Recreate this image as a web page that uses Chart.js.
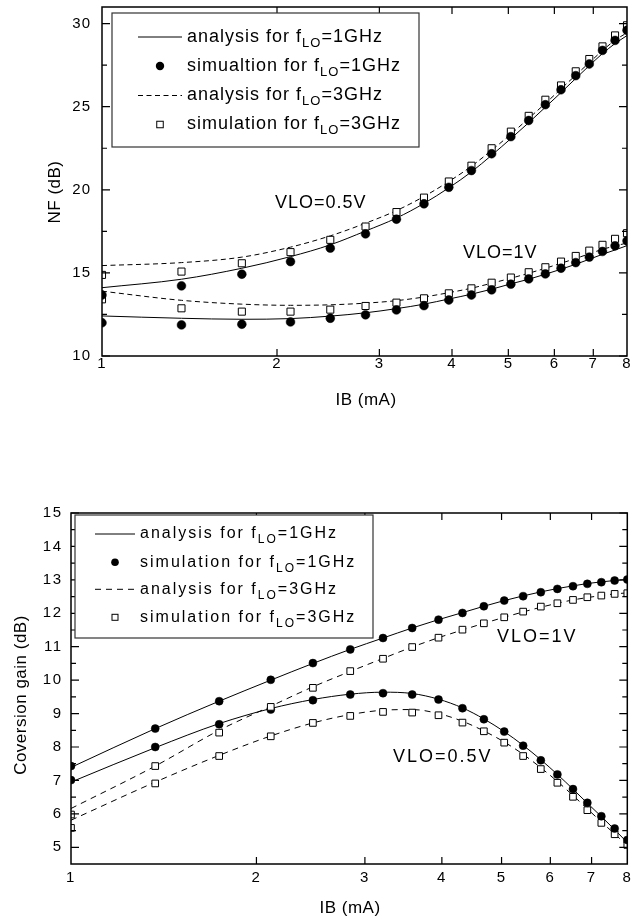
<!DOCTYPE html>
<html>
<head>
<meta charset="utf-8">
<script src="https://cdn.jsdelivr.net/npm/chart.js@4.4.1/dist/chart.umd.min.js"></script>
<style>
  html, body { margin: 0; padding: 0; background: #fff; }
  #wrap { position: relative; width: 633px; height: 920px; overflow: hidden; }
  canvas { position: absolute; left: 0; }
  #nf { top: 0; }
  #cg { top: 470px; }
</style>
</head>
<body>
<div id="wrap">
  <canvas id="nf" width="633" height="420"></canvas>
  <canvas id="cg" width="633" height="450"></canvas>
</div>
<script>
// Base current IB (mA) at which both analysis and simulation are evaluated
const ibValues = [1.00, 1.37, 1.74, 2.11, 2.47, 2.84, 3.21, 3.58, 3.95, 4.32,
                  4.68, 5.05, 5.42, 5.79, 6.16, 6.53, 6.89, 7.26, 7.63, 8.00];
const xTickValues = [1, 2, 3, 4, 5, 6, 7, 8];
const xInnerTicks = [2, 3, 4, 5, 6, 7];

// Noise figure (dB)
const nfAna05_1G = [14.11, 14.62, 15.28, 15.98, 16.69, 17.52, 18.30, 19.18, 20.12, 21.08,
                    22.08, 23.08, 24.04, 24.97, 25.85, 26.70, 27.47, 28.20, 28.80, 29.28];
const nfSim05_1G = [13.67, 14.22, 14.92, 15.68, 16.49, 17.35, 18.23, 19.16, 20.15, 21.16,
                    22.17, 23.20, 24.17, 25.12, 26.02, 26.87, 27.57, 28.39, 28.99, 29.60];
const nfAna05_3G = [15.44, 15.62, 15.95, 16.55, 17.23, 17.99, 18.75, 19.60, 20.50, 21.42,
                    22.38, 23.35, 24.30, 25.20, 26.07, 26.90, 27.65, 28.38, 29.00, 29.45];
const nfSim05_3G = [14.88, 15.08, 15.58, 16.25, 16.99, 17.79, 18.66, 19.53, 20.50, 21.45,
                    22.50, 23.50, 24.45, 25.42, 26.28, 27.13, 27.87, 28.63, 29.29, 29.90];
const nfAna1_1G  = [12.41, 12.27, 12.21, 12.25, 12.40, 12.60, 12.85, 13.12, 13.43, 13.72,
                    14.02, 14.34, 14.62, 14.92, 15.22, 15.52, 15.82, 16.12, 16.38, 16.64];
const nfSim1_1G  = [12.00, 11.87, 11.91, 12.05, 12.27, 12.48, 12.77, 13.03, 13.37, 13.67,
                    13.98, 14.32, 14.64, 14.94, 15.28, 15.62, 15.95, 16.29, 16.63, 16.93];
const nfAna1_3G  = [13.90, 13.35, 13.12, 13.05, 13.08, 13.18, 13.33, 13.55, 13.81, 14.08,
                    14.38, 14.68, 14.98, 15.28, 15.58, 15.87, 16.15, 16.42, 16.62, 16.80];
const nfSim1_3G  = [13.41, 12.87, 12.67, 12.67, 12.79, 13.01, 13.21, 13.47, 13.77, 14.07,
                    14.41, 14.72, 15.04, 15.34, 15.68, 16.02, 16.34, 16.69, 17.05, 17.39];
const nfYMajor = [10, 15, 20, 25, 30];
const nfYMinor = [12.5, 17.5, 22.5, 27.5];

// Conversion gain (dB)
const cgAna1_1G  = [7.39, 8.55, 9.37, 10.00, 10.50, 10.92, 11.26, 11.56, 11.81, 12.02,
                    12.21, 12.38, 12.52, 12.64, 12.74, 12.82, 12.89, 12.94, 12.98, 13.01];
const cgSim1_1G  = [7.43, 8.55, 9.37, 10.01, 10.51, 10.92, 11.26, 11.56, 11.81, 12.01,
                    12.21, 12.38, 12.51, 12.63, 12.73, 12.81, 12.88, 12.93, 12.98, 13.01];
const cgAna1_3G  = [6.16, 7.43, 8.50, 9.22, 9.80, 10.26, 10.65, 10.99, 11.27, 11.50,
                    11.70, 11.88, 12.04, 12.18, 12.30, 12.40, 12.47, 12.53, 12.58, 12.61];
const cgSim1_3G  = [5.98, 7.43, 8.43, 9.20, 9.77, 10.27, 10.64, 10.99, 11.27, 11.51,
                    11.70, 11.88, 12.05, 12.20, 12.30, 12.40, 12.48, 12.53, 12.58, 12.60];
const cgAna05_1G = [6.95, 7.98, 8.70, 9.15, 9.42, 9.58, 9.64, 9.60, 9.43, 9.17,
                    8.84, 8.46, 8.05, 7.62, 7.18, 6.74, 6.32, 5.92, 5.53, 5.14];
const cgSim05_1G = [7.01, 8.00, 8.68, 9.12, 9.40, 9.57, 9.61, 9.57, 9.42, 9.16,
                    8.83, 8.46, 8.04, 7.60, 7.18, 6.74, 6.33, 5.93, 5.56, 5.22];
const cgAna05_3G = [5.81, 6.95, 7.75, 8.33, 8.72, 8.97, 9.10, 9.12, 9.00, 8.77,
                    8.48, 8.15, 7.78, 7.38, 6.97, 6.55, 6.15, 5.76, 5.40, 5.05];
const cgSim05_3G = [5.58, 6.91, 7.73, 8.32, 8.72, 8.93, 9.05, 9.03, 8.95, 8.73,
                    8.47, 8.13, 7.73, 7.34, 6.93, 6.51, 6.11, 5.73, 5.39, 5.07];
const cgYMajor = [5, 6, 7, 8, 9, 10, 11, 12, 13, 14, 15];
const cgYMinor = [5.5, 6.5, 7.5, 8.5, 9.5, 10.5, 11.5, 12.5, 13.5, 14.5];

// Texts
const nfLegendText = [
  ['analysis for f', 'LO', '=1GHz'],
  ['simualtion for f', 'LO', '=1GHz'],
  ['analysis for f', 'LO', '=3GHz'],
  ['simulation for f', 'LO', '=3GHz']
];
const cgLegendText = [
  ['analysis for f', 'LO', '=1GHz'],
  ['simulation for f', 'LO', '=1GHz'],
  ['analysis for f', 'LO', '=3GHz'],
  ['simulation for f', 'LO', '=3GHz']
];
const xTitle = 'IB (mA)';
const nfYTitle = 'NF (dB)';
const cgYTitle = 'Coversion gain (dB)';
const noteHigh = 'VLO=0.5V';
const noteLow = 'VLO=1V';

const FONT = '"Liberation Sans", Arial, Helvetica, sans-serif';

function pairs(ys) { return ibValues.map((x, i) => ({ x: x, y: ys[i] })); }

function lineSet(label, ys, dash) {
  return { label, data: pairs(ys), showLine: true, borderColor: '#000', borderWidth: 1,
           borderDash: dash, pointRadius: 0, pointHoverRadius: 0,
           cubicInterpolationMode: 'monotone', fill: false, order: 2 };
}
function dotSet(label, ys, r) {
  return { label, data: pairs(ys), showLine: false, pointStyle: 'circle', pointRadius: r,
           pointHoverRadius: r, backgroundColor: '#000', borderColor: '#000', borderWidth: 0.5, order: 1 };
}
function squareSet(label, ys, r) {
  return { label, data: pairs(ys), showLine: false, pointStyle: 'rect', pointRadius: r,
           pointHoverRadius: r, backgroundColor: '#fff', borderColor: '#000', borderWidth: 1, order: 1 };
}

// Frame, inward ticks, axis titles, curve notes and the legend
const decor = {
  id: 'decor',
  beforeDraw(chart, args, o) { chart.ctx.letterSpacing = o.tickSpacing; },
  afterDraw(chart, args, o) {
    const ctx = chart.ctx, a = chart.chartArea, xs = chart.scales.x, ys = chart.scales.y;
    ctx.save();
    ctx.letterSpacing = '0px';
    ctx.setLineDash([]);
    ctx.strokeStyle = '#000';
    ctx.lineWidth = 1.5;
    ctx.strokeRect(a.left, a.top, a.right - a.left, a.bottom - a.top);
    ctx.lineWidth = 1.2;
    ctx.beginPath();
    xInnerTicks.forEach(v => {
      const p = xs.getPixelForValue(v);
      ctx.moveTo(p, a.bottom); ctx.lineTo(p, a.bottom - 7);
      ctx.moveTo(p, a.top); ctx.lineTo(p, a.top + 7);
    });
    const yt = (vals, len) => vals.forEach(v => {
      const p = ys.getPixelForValue(v);
      ctx.moveTo(a.left, p); ctx.lineTo(a.left + len, p);
      ctx.moveTo(a.right, p); ctx.lineTo(a.right - len, p);
    });
    yt(o.yMajor, 8);
    yt(o.yMinor, 5);
    ctx.stroke();

    ctx.fillStyle = '#000';
    ctx.textBaseline = 'middle';
    ctx.textAlign = 'center';
    ctx.font = o.titleSize + 'px ' + FONT;
    ctx.letterSpacing = o.titleSpacing;
    ctx.fillText(o.xTitle, o.xTitlePos[0], o.xTitlePos[1]);
    ctx.save();
    ctx.translate(o.yTitlePos[0], o.yTitlePos[1]);
    ctx.rotate(-Math.PI / 2);
    ctx.fillText(o.yTitle, 0, 0);
    ctx.restore();

    ctx.textAlign = 'left';
    ctx.font = o.noteSize + 'px ' + FONT;
    ctx.letterSpacing = o.noteSpacing;
    o.notes.forEach(n => ctx.fillText(n.text, n.x, n.y));

    // legend
    const L = o.legend;
    ctx.letterSpacing = '0px';
    ctx.fillStyle = '#fff';
    ctx.fillRect(L.x, L.y, L.w, L.h);
    ctx.strokeStyle = '#333';
    ctx.lineWidth = 1.2;
    ctx.strokeRect(L.x, L.y, L.w, L.h);
    L.items.forEach((it, i) => {
      const y = L.rows[i];
      ctx.strokeStyle = '#000';
      ctx.lineWidth = 1;
      if (it.kind === 'line') {
        ctx.setLineDash(it.dash);
        ctx.beginPath(); ctx.moveTo(L.x0, y); ctx.lineTo(L.x1, y); ctx.stroke();
        ctx.setLineDash([]);
      } else if (it.kind === 'dot') {
        ctx.fillStyle = '#000';
        ctx.beginPath(); ctx.arc(L.mx, y, L.dotR, 0, Math.PI * 2); ctx.fill();
      } else {
        const s = L.sq;
        ctx.fillStyle = '#fff';
        ctx.fillRect(L.mx - s / 2, y - s / 2, s, s);
        ctx.strokeRect(L.mx - s / 2, y - s / 2, s, s);
      }
      const t = it.text;
      ctx.fillStyle = '#000';
      ctx.letterSpacing = L.spacing;
      ctx.font = L.size + 'px ' + FONT;
      ctx.fillText(t[0], L.tx, y);
      let w = ctx.measureText(t[0]).width;
      ctx.font = L.subSize + 'px ' + FONT;
      ctx.fillText(t[1], L.tx + w, y + L.subDy);
      w += ctx.measureText(t[1]).width;
      ctx.font = L.size + 'px ' + FONT;
      ctx.fillText(t[2], L.tx + w, y);
    });
    ctx.restore();
  }
};

function axes(cfg) {
  return {
    x: {
      type: 'logarithmic', min: 1, max: 8,
      grid: { display: false, drawTicks: false }, border: { display: false },
      ticks: { color: '#000', autoSkip: false, maxRotation: 0, padding: cfg.xPad,
               font: { family: FONT, size: 15, lineHeight: 1 },
               callback: v => String(v) },
      afterBuildTicks: s => { s.ticks = xTickValues.map(v => ({ value: v })); },
      afterFit: s => { s.height = cfg.xHeight; s.paddingLeft = 0; s.paddingRight = 0; }
    },
    y: {
      type: 'linear', min: cfg.yMin, max: cfg.yMax,
      grid: { display: false, drawTicks: false }, border: { display: false },
      ticks: { color: '#000', padding: cfg.yPad, font: { family: FONT, size: 15 } },
      afterBuildTicks: s => { s.ticks = cfg.yMajor.map(v => ({ value: v })); },
      afterFit: s => { s.width = cfg.left; s.paddingTop = 0; s.paddingBottom = 0; }
    }
  };
}

// Noise figure chart
new Chart(document.getElementById('nf'), {
  type: 'scatter',
  data: {
    datasets: [
      lineSet('analysis 1GHz VLO=0.5V', nfAna05_1G, []),
      lineSet('analysis 3GHz VLO=0.5V', nfAna05_3G, [5, 3.5]),
      lineSet('analysis 1GHz VLO=1V', nfAna1_1G, []),
      lineSet('analysis 3GHz VLO=1V', nfAna1_3G, [5, 3.5]),
      dotSet('simulation 1GHz VLO=0.5V', nfSim05_1G, 4.4),
      squareSet('simulation 3GHz VLO=0.5V', nfSim05_3G, 5),
      dotSet('simulation 1GHz VLO=1V', nfSim1_1G, 4.4),
      squareSet('simulation 3GHz VLO=1V', nfSim1_3G, 5)
    ]
  },
  options: {
    responsive: false, animation: false, events: [], devicePixelRatio: 1,
    layout: { padding: { top: 7, right: 2, left: 0, bottom: 0 } },
    scales: axes({ xHeight: 64, xPad: 0, yMin: 10, yMax: 31, yMajor: nfYMajor, yPad: 11, left: 102 }),
    plugins: {
      legend: { display: false }, tooltip: { enabled: false },
      decor: {
        tickSpacing: '1px',
        yMajor: nfYMajor, yMinor: nfYMinor,
        titleSize: 17, titleSpacing: '0.5px',
        xTitle: xTitle, xTitlePos: [366, 400],
        yTitle: nfYTitle, yTitlePos: [55, 192],
        noteSize: 18, noteSpacing: '1px',
        notes: [{ text: noteHigh, x: 275, y: 203 }, { text: noteLow, x: 463, y: 253 }],
        legend: {
          x: 112, y: 13, w: 307, h: 134, rows: [37, 66, 95.5, 124.5],
          x0: 138, x1: 182, mx: 160, tx: 187, dotR: 4.2, sq: 6.5,
          size: 18, subSize: 13, subDy: 6, spacing: '1px',
          items: [
            { kind: 'line', dash: [], text: nfLegendText[0] },
            { kind: 'dot', text: nfLegendText[1] },
            { kind: 'line', dash: [5, 3.5], text: nfLegendText[2] },
            { kind: 'square', text: nfLegendText[3] }
          ]
        }
      }
    }
  },
  plugins: [decor]
});

// Conversion gain chart
new Chart(document.getElementById('cg'), {
  type: 'scatter',
  data: {
    datasets: [
      lineSet('analysis 1GHz VLO=1V', cgAna1_1G, []),
      lineSet('analysis 3GHz VLO=1V', cgAna1_3G, [6, 5]),
      lineSet('analysis 1GHz VLO=0.5V', cgAna05_1G, []),
      lineSet('analysis 3GHz VLO=0.5V', cgAna05_3G, [6, 5]),
      dotSet('simulation 1GHz VLO=1V', cgSim1_1G, 4),
      squareSet('simulation 3GHz VLO=1V', cgSim1_3G, 4.7),
      dotSet('simulation 1GHz VLO=0.5V', cgSim05_1G, 4),
      squareSet('simulation 3GHz VLO=0.5V', cgSim05_3G, 4.7)
    ]
  },
  options: {
    responsive: false, animation: false, events: [], devicePixelRatio: 1,
    layout: { padding: { top: 43, right: 4, left: 0, bottom: 0 } },
    scales: axes({ xHeight: 56, xPad: 6.5, yMin: 4.5, yMax: 15, yMajor: cgYMajor, yPad: 8.5, left: 71 }),
    plugins: {
      legend: { display: false }, tooltip: { enabled: false },
      decor: {
        tickSpacing: '1.5px',
        yMajor: cgYMajor, yMinor: cgYMinor,
        titleSize: 17, titleSpacing: '0.5px',
        xTitle: xTitle, xTitlePos: [350, 438],
        yTitle: cgYTitle, yTitlePos: [21, 225],
        noteSize: 18, noteSpacing: '2px',
        notes: [{ text: noteLow, x: 497, y: 167 }, { text: noteHigh, x: 393, y: 287 }],
        legend: {
          x: 75, y: 45, w: 298, h: 123, rows: [64, 92.3, 119.3, 147.3],
          x0: 95, x1: 135, mx: 115, tx: 140, dotR: 3.8, sq: 6,
          size: 16, subSize: 12, subDy: 6, spacing: '2px',
          items: [
            { kind: 'line', dash: [], text: cgLegendText[0] },
            { kind: 'dot', text: cgLegendText[1] },
            { kind: 'line', dash: [6, 5], text: cgLegendText[2] },
            { kind: 'square', text: cgLegendText[3] }
          ]
        }
      }
    }
  },
  plugins: [decor]
});
</script>
</body>
</html>
